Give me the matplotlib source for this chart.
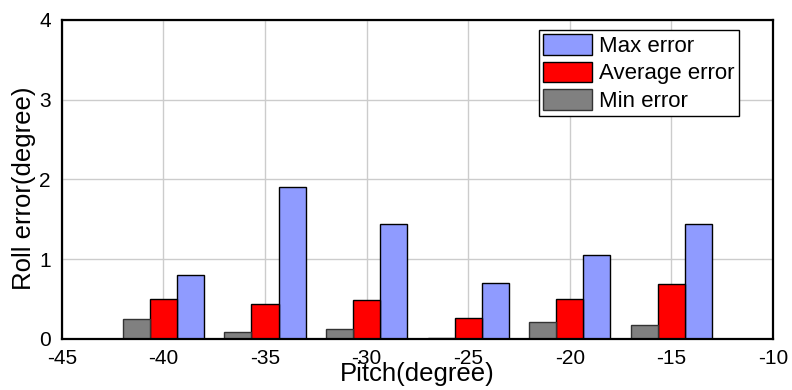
import numpy as np
import matplotlib
matplotlib.use("Agg")
import matplotlib.pyplot as plt

plt.rcParams['font.family'] = ['Liberation Sans', 'DejaVu Sans']
plt.rcParams['axes.unicode_minus'] = False

pitch = [-40, -35, -30, -25, -20, -15]
min_err = [0.25, 0.085, 0.12, 0.015, 0.21, 0.175]
avg_err = [0.50, 0.435, 0.485, 0.26, 0.50, 0.685]
max_err = [0.80, 1.91, 1.44, 0.70, 1.05, 1.445]

fig = plt.figure(figsize=(7.92, 3.9), dpi=100)
ax = fig.add_axes([0.078, 0.131, 0.898, 0.818])

x = np.array(pitch, dtype=float)
w = 4.0 / 3
ax.bar(x + w, max_err, w, color='#8f9bff', edgecolor='black', linewidth=1, label='Max error', zorder=3)
ax.bar(x, avg_err, w, color='#ff0000', edgecolor='black', linewidth=1, label='Average error', zorder=3)
ax.bar(x - w, min_err, w, color='#808080', edgecolor='#333333', linewidth=1, label='Min error', zorder=3)

ax.set_xlim(-45, -10)
ax.set_ylim(0, 4)
ax.set_xticks(np.arange(-45, -9, 5))
ax.set_yticks(np.arange(0, 5, 1))
ax.grid(True, color='#cccccc', linewidth=1, zorder=0)
ax.tick_params(axis='x', length=0, labelsize=15, pad=7)
ax.tick_params(axis='y', length=0, labelsize=15, pad=8)
for s in ax.spines.values():
    s.set_linewidth(1.6)
    s.set_zorder(4)

ax.set_xlabel('Pitch(degree)', fontsize=18.5, labelpad=-4)
ax.set_ylabel('Roll error(degree)', fontsize=18.5, labelpad=2)
ax.yaxis.label.set_y(0.473)

leg = ax.legend(loc='upper right', bbox_to_anchor=(0.952, 0.969), fontsize=16,
                frameon=True, fancybox=False, framealpha=1, edgecolor='black',
                handlelength=2.2, handleheight=1.05, handletextpad=0.3,
                labelspacing=0.2, borderpad=0.2, borderaxespad=0)
leg.get_frame().set_linewidth(1)

fig.savefig('out.png', dpi=100)
